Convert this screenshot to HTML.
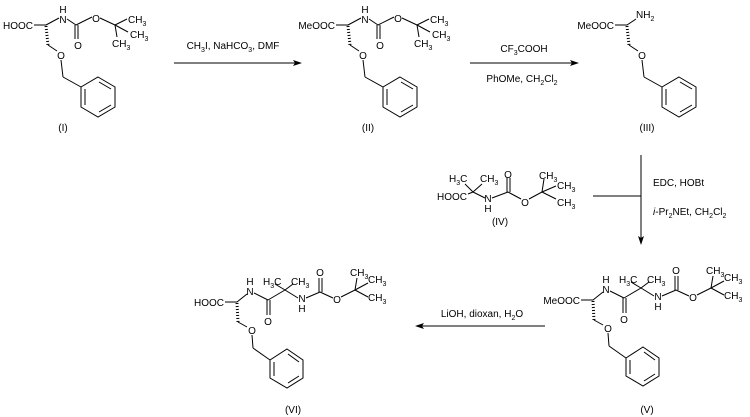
<!DOCTYPE html>
<html><head><meta charset="utf-8"><style>
html,body{margin:0;padding:0;background:#fff;}
svg{display:block;}
text{font-family:"Liberation Sans",Arial,sans-serif;font-size:10px;fill:#000;}
.s{font-size:7px;}
</style></head><body>
<svg width="750" height="417" viewBox="0 0 750 417" xmlns="http://www.w3.org/2000/svg">
<defs>
<g id="boc" stroke="#000" stroke-width="1" fill="none">
  <line x1="-12" y1="0" x2="0" y2="0"/>
  <line x1="0" y1="0" x2="13" y2="-7"/>
  <line x1="21" y1="-6" x2="30" y2="0"/>
  <line x1="29" y1="0" x2="29" y2="14"/>
  <line x1="32" y1="0" x2="32" y2="14"/>
  <line x1="30" y1="0" x2="46" y2="-8"/>
  <line x1="54" y1="-7" x2="69" y2="0"/>
  <line x1="69" y1="0" x2="81" y2="-6"/>
  <line x1="69" y1="0" x2="82" y2="7"/>
  <line x1="69" y1="0" x2="71" y2="12"/>
</g>
<g id="bn" stroke="#000" stroke-width="1" fill="none">
  <line x1="0" y1="1" x2="2" y2="20" stroke-width="3" stroke-dasharray="1 2"/>
  <line x1="2" y1="20" x2="11" y2="26"/>
  <line x1="15" y1="35" x2="17" y2="52"/>
  <line x1="17" y1="52" x2="35" y2="62"/>
  <polygon points="52,52 69,62 69,82 52,92 35,82 35,62"/>
  <line x1="53" y1="57" x2="65" y2="64"/>
  <line x1="65" y1="80" x2="53" y2="87"/>
  <line x1="39" y1="64" x2="39" y2="80"/>
</g>
<g id="bn2" stroke="#000" stroke-width="1" fill="none">
  <line x1="0" y1="1" x2="1" y2="20" stroke-width="3" stroke-dasharray="1 2"/>
  <line x1="1" y1="20" x2="10" y2="25"/>
  <line x1="15" y1="33" x2="16" y2="46"/>
  <line x1="16" y1="46" x2="33" y2="58"/>
  <polygon points="50,47 66,58 66,76 50,86 33,76 33,58"/>
  <line x1="51" y1="52" x2="62" y2="60"/>
  <line x1="62" y1="74" x2="51" y2="81"/>
  <line x1="37" y1="60" x2="37" y2="74"/>
</g>
<g id="pep" stroke="#000" stroke-width="1" fill="none">
  <line x1="-12" y1="0" x2="0" y2="0"/>
  <line x1="0" y1="0" x2="10" y2="-8"/>
  <line x1="17" y1="-9" x2="31" y2="-2"/>
  <line x1="30" y1="-2" x2="30" y2="13"/>
  <line x1="33" y1="-2" x2="33" y2="13"/>
  <line x1="31" y1="-2" x2="48" y2="-12"/>
  <line x1="48" y1="-12" x2="38" y2="-18"/>
  <line x1="48" y1="-12" x2="56" y2="-18"/>
  <line x1="48" y1="-12" x2="61" y2="-4"/>
  <line x1="69" y1="-4" x2="83" y2="-10"/>
  <line x1="82" y1="-10" x2="82" y2="-24"/>
  <line x1="85" y1="-10" x2="85" y2="-24"/>
  <line x1="83" y1="-10" x2="96" y2="-4"/>
  <line x1="104" y1="-5" x2="118" y2="-12"/>
  <line x1="118" y1="-12" x2="120" y2="-24"/>
  <line x1="118" y1="-12" x2="131" y2="-19"/>
  <line x1="118" y1="-12" x2="131" y2="-5"/>
</g>
</defs>

<g transform="translate(46,25)">
  <use href="#boc"/><use href="#bn"/>
  <text x="-13" y="4" text-anchor="end">HOOC</text>
  <text x="17" y="-2" text-anchor="middle">N</text>
  <text x="17" y="-12" text-anchor="middle">H</text>
  <text x="32" y="24" text-anchor="middle">O</text>
  <text x="50" y="-3" text-anchor="middle">O</text>
  <text x="82" y="-2">CH<tspan class="s" dy="3">3</tspan></text>
  <text x="84" y="13">CH<tspan class="s" dy="3">3</tspan></text>
  <text x="66" y="22">CH<tspan class="s" dy="3">3</tspan></text>
  <text x="15" y="34" text-anchor="middle">O</text>
</g>
<text x="63" y="131" text-anchor="middle">(I)</text>

<line x1="174" y1="63" x2="296" y2="63" stroke="#000"/>
<polygon points="302,63 293,60 295,63 293,66" fill="#000"/>
<text x="233" y="49" text-anchor="middle">CH<tspan class="s" dy="3">3</tspan><tspan dy="-3">I, NaHCO</tspan><tspan class="s" dy="3">3</tspan><tspan dy="-3">, DMF</tspan></text>

<g transform="translate(348,25)">
  <use href="#boc"/><use href="#bn"/>
  <text x="-13" y="4" text-anchor="end">MeOOC</text>
  <text x="17" y="-2" text-anchor="middle">N</text>
  <text x="17" y="-12" text-anchor="middle">H</text>
  <text x="32" y="24" text-anchor="middle">O</text>
  <text x="50" y="-3" text-anchor="middle">O</text>
  <text x="82" y="-2">CH<tspan class="s" dy="3">3</tspan></text>
  <text x="84" y="13">CH<tspan class="s" dy="3">3</tspan></text>
  <text x="66" y="22">CH<tspan class="s" dy="3">3</tspan></text>
  <text x="15" y="34" text-anchor="middle">O</text>
</g>
<text x="368" y="131" text-anchor="middle">(II)</text>

<line x1="470" y1="63" x2="573" y2="63" stroke="#000"/>
<polygon points="579,63 570,60 572,63 570,66" fill="#000"/>
<text x="524" y="52" text-anchor="middle">CF<tspan class="s" dy="3">3</tspan><tspan dy="-3">COOH</tspan></text>
<text x="522" y="82" text-anchor="middle">PhOMe, CH<tspan class="s" dy="3">2</tspan><tspan dy="-3">Cl</tspan><tspan class="s" dy="3">2</tspan></text>

<g transform="translate(627,25)">
  <use href="#bn"/>
  <g stroke="#000" fill="none"><line x1="-12" y1="0" x2="0" y2="0"/><line x1="0" y1="0" x2="9" y2="-6"/></g>
  <text x="-13" y="4" text-anchor="end">MeOOC</text>
  <text x="9" y="-7">NH<tspan class="s" dy="3">2</tspan></text>
  <text x="15" y="34" text-anchor="middle">O</text>
</g>
<text x="647" y="131" text-anchor="middle">(III)</text>

<g stroke="#000" fill="none">
  <line x1="468" y1="194" x2="473" y2="192"/>
  <line x1="473" y1="192" x2="465" y2="184"/>
  <line x1="473" y1="192" x2="482" y2="184"/>
  <line x1="473" y1="192" x2="485" y2="198"/>
  <line x1="492" y1="198" x2="508" y2="192"/>
  <line x1="507" y1="192" x2="507" y2="178"/>
  <line x1="510" y1="192" x2="510" y2="178"/>
  <line x1="508" y1="192" x2="521" y2="199"/>
  <line x1="529" y1="199" x2="542" y2="192"/>
  <line x1="542" y1="192" x2="544" y2="179"/>
  <line x1="542" y1="192" x2="556" y2="186"/>
  <line x1="542" y1="192" x2="556" y2="199"/>
</g>
<text x="467" y="200" text-anchor="end">HOOC</text>
<text x="449" y="182">H<tspan class="s" dy="3">3</tspan><tspan dy="-3">C</tspan></text>
<text x="480" y="182">CH<tspan class="s" dy="3">3</tspan></text>
<text x="488" y="202" text-anchor="middle">N</text>
<text x="488" y="212" text-anchor="middle">H</text>
<text x="508" y="178" text-anchor="middle">O</text>
<text x="525" y="206" text-anchor="middle">O</text>
<text x="539" y="179">CH<tspan class="s" dy="3">3</tspan></text>
<text x="557" y="189">CH<tspan class="s" dy="3">3</tspan></text>
<text x="557" y="206">CH<tspan class="s" dy="3">3</tspan></text>
<text x="500" y="225" text-anchor="middle">(IV)</text>

<line x1="641" y1="155" x2="641" y2="238" stroke="#000"/>
<polygon points="641,245 638,236 641,238 644,236" fill="#000"/>
<line x1="593" y1="196" x2="641" y2="196" stroke="#000"/>
<text x="653" y="186">EDC, HOBt</text>
<text x="653" y="215"><tspan font-style="italic">i</tspan>-Pr<tspan class="s" dy="3">2</tspan><tspan dy="-3">NEt, CH</tspan><tspan class="s" dy="3">2</tspan><tspan dy="-3">Cl</tspan><tspan class="s" dy="3">2</tspan></text>

<g transform="translate(593,300)">
  <use href="#pep"/><use href="#bn2"/>
  <text x="-13" y="4" text-anchor="end">MeOOC</text>
  <text x="13" y="-7" text-anchor="middle">N</text>
  <text x="13" y="-17" text-anchor="middle">H</text>
  <text x="31" y="23" text-anchor="middle">O</text>
  <text x="26" y="-17">H<tspan class="s" dy="3">3</tspan><tspan dy="-3">C</tspan></text>
  <text x="54" y="-17">CH<tspan class="s" dy="3">3</tspan></text>
  <text x="65" y="0" text-anchor="middle">N</text>
  <text x="65" y="10" text-anchor="middle">H</text>
  <text x="83" y="-26" text-anchor="middle">O</text>
  <text x="100" y="1" text-anchor="middle">O</text>
  <text x="113" y="-26">CH<tspan class="s" dy="3">3</tspan></text>
  <text x="131" y="-19">CH<tspan class="s" dy="3">3</tspan></text>
  <text x="131" y="-1">CH<tspan class="s" dy="3">3</tspan></text>
  <text x="15" y="32" text-anchor="middle">O</text>
</g>
<text x="647" y="413" text-anchor="middle">(V)</text>

<line x1="421" y1="326" x2="545" y2="326" stroke="#000"/>
<polygon points="415,326 424,323 422,326 424,329" fill="#000"/>
<text x="482" y="317" text-anchor="middle">LiOH, dioxan, H<tspan class="s" dy="3">2</tspan><tspan dy="-3">O</tspan></text>

<g transform="translate(237,302)">
  <use href="#pep"/><use href="#bn2"/>
  <text x="-13" y="4" text-anchor="end">HOOC</text>
  <text x="13" y="-7" text-anchor="middle">N</text>
  <text x="13" y="-17" text-anchor="middle">H</text>
  <text x="31" y="23" text-anchor="middle">O</text>
  <text x="26" y="-17">H<tspan class="s" dy="3">3</tspan><tspan dy="-3">C</tspan></text>
  <text x="54" y="-17">CH<tspan class="s" dy="3">3</tspan></text>
  <text x="65" y="0" text-anchor="middle">N</text>
  <text x="65" y="10" text-anchor="middle">H</text>
  <text x="83" y="-26" text-anchor="middle">O</text>
  <text x="100" y="1" text-anchor="middle">O</text>
  <text x="113" y="-26">CH<tspan class="s" dy="3">3</tspan></text>
  <text x="131" y="-19">CH<tspan class="s" dy="3">3</tspan></text>
  <text x="131" y="-1">CH<tspan class="s" dy="3">3</tspan></text>
  <text x="15" y="32" text-anchor="middle">O</text>
</g>
<text x="293" y="413" text-anchor="middle">(VI)</text>
</svg>
</body></html>
